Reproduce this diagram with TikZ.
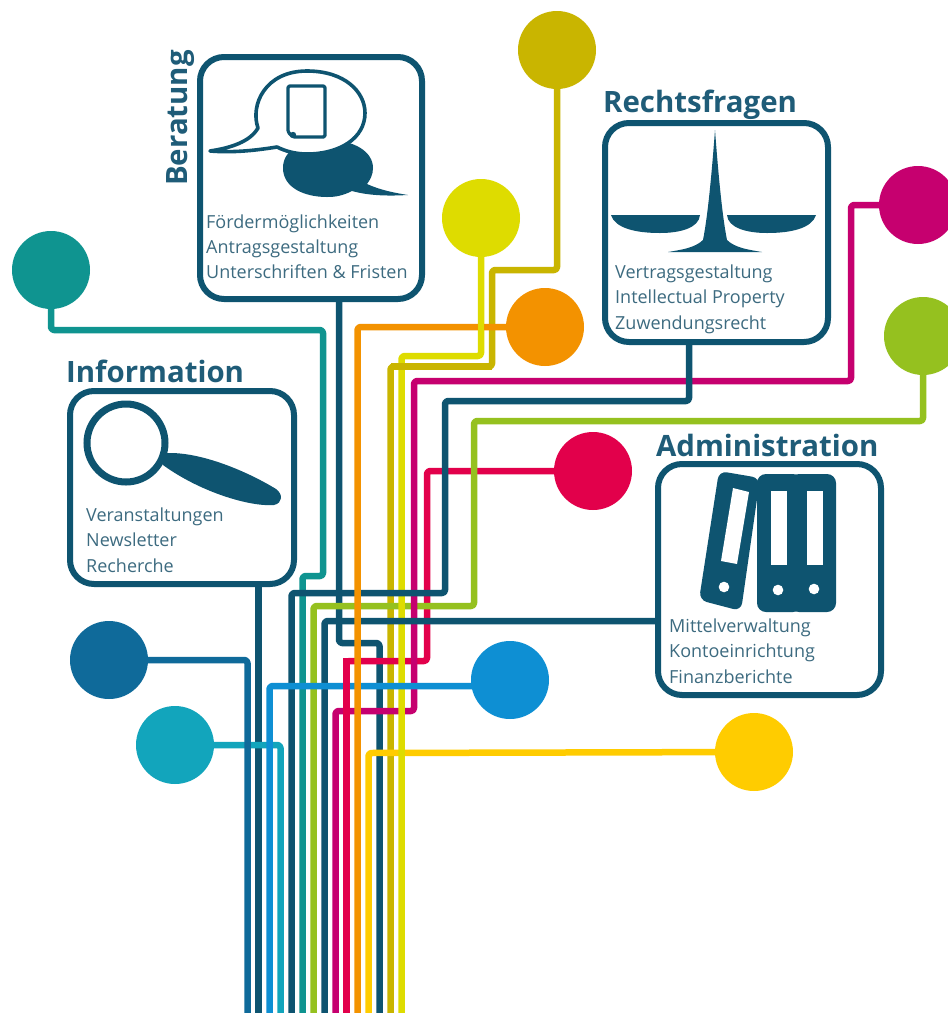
\documentclass[tikz,border=0pt]{standalone}
\usepackage{fontspec}
\setmainfont{Open Sans}
\usetikzlibrary{backgrounds}
\definecolor{cDark}{HTML}{0E5470}
\definecolor{cBlueD}{HTML}{0F6A9A}
\definecolor{cBlue}{HTML}{0E8FD3}
\definecolor{cCyan}{HTML}{12A5BC}
\definecolor{cTeal}{HTML}{0F9490}
\definecolor{cGreen}{HTML}{95C11F}
\definecolor{cMag}{HTML}{C6006F}
\definecolor{cCrim}{HTML}{E2004B}
\definecolor{cOrange}{HTML}{F39200}
\definecolor{cYellow}{HTML}{FFCC00}
\definecolor{cOlive}{HTML}{C9B500}
\definecolor{cLime}{HTML}{DEDC00}
\definecolor{cBody}{HTML}{3D6B80}
\definecolor{cTitle}{HTML}{1F5C78}
\tikzset{
  dot/.style={circle,fill=#1,draw=none,minimum size=78pt,inner sep=0pt},
  panel/.style={rectangle,draw=cDark,line width=6pt,rounded corners=24pt,inner sep=0pt},
  conn/.style={draw=#1,line width=6.5pt,rounded corners=3pt,line join=round},
  title/.style={font=\fontsize{29.4}{32}\selectfont\bfseries,text=cTitle,inner sep=0pt,anchor=base west},
  body/.style={font=\fontsize{18}{25.2}\selectfont,text=cBody,inner sep=0pt,align=left,anchor=base west},
  ink/.style={fill=cDark,draw=none},
}
\begin{document}
\begin{tikzpicture}[x=1pt,y=-1pt]
\useasboundingbox (0,0) rectangle (948,1013);
% panels
\node[panel,minimum width=222pt,minimum height=242pt] (ber) at (311,178) {};
\node[panel,minimum width=223pt,minimum height=219pt] (rec) at (716.5,232.5) {};
\node[panel,minimum width=223pt,minimum height=231pt] (adm) at (769.5,579.5) {};
\node[panel,minimum width=224pt,minimum height=193pt] (inf) at (182,487.5) {};
% dots
\node[dot=cOlive] (dOlive) at (557,50) {};
\node[dot=cLime] (dLime) at (481,218) {};
\node[dot=cOrange] (dOrange) at (545,327) {};
\node[dot=cMag] (dMag) at (918,205) {};
\node[dot=cGreen] (dGreen) at (923,336) {};
\node[dot=cTeal] (dTeal) at (51,270) {};
\node[dot=cCrim] (dCrim) at (593,471) {};
\node[dot=cBlueD] (dBlueD) at (109,660) {};
\node[dot=cCyan] (dCyan) at (175,745) {};
\node[dot=cBlue] (dBlue) at (510,680) {};
\node[dot=cYellow] (dYellow) at (754,752) {};
% free ends
\foreach \n/\x in {a/247.5,b/258.5,c/269.5,d/280.5,e/291.5,f/302.5,g/313.5,h/324.5,i/335.5,j/346.5,k/357.5,l/368.5,m/379.5,n/390.5,o/401.5}
  \coordinate (end\n) at (\x,1020);
% connectors, lowest first so that the crossings stack as in the picture
\begin{scope}[on background layer]
\fill[white] (0,0) rectangle (948,1013);
\draw[conn=cTeal] (dTeal.center) -- (51,330) -- (323,330) -- (323,576) -- (302.5,576) -- (endf);
\draw[conn=cOlive] (dOlive.center) -- (557,270) -- (492,270) -- (492,366.5) -- (390.5,366.5) -- (endn);
\draw[conn=cDark] (258.5,0 |- inf.south) -- (endb);
\draw[conn=cDark] (339,0 |- ber.south) -- (339,643) -- (379.5,643) -- (endm);
\draw[conn=cCyan] (dCyan.center) -- (280.5,745) -- (endd);
\draw[conn=cBlueD] (dBlueD.center) -- (247.5,660) -- (enda);
\draw[conn=cYellow] (dYellow.center) -- (368.5,753) -- (endl);
\draw[conn=cCrim] (dCrim.center) -- (427,471) -- (427,661) -- (346.5,661) -- (endj);
\draw[conn=cGreen] (dGreen.center) -- (923,421) -- (474,421) -- (474,606) -- (313.5,606) -- (endg);
\draw[conn=cMag] (dMag.center) -- (851,205) -- (851,381) -- (414,381) -- (414,711) -- (335.5,711) -- (endi);
\draw[conn=cLime] (dLime.center) -- (481,356) -- (401.5,356) -- (endo);
\draw[conn=cDark] (689,0 |- rec.south) -- (689,401) -- (445,401) -- (445,593) -- (291.5,593) -- (ende);
\draw[conn=cDark] (adm.west |- 0,621) -- (324.5,621) -- (endh);
\draw[conn=cBlue] (dBlue.center) ++(0,6) -- (269.5,686) -- (endc);
\draw[conn=cCrim] (346.5,658) -- (endj);
\draw[conn=cOrange] (dOrange.center) -- (357.5,327) -- (endk);
\draw[conn=cLime] (dLime.center) -- (481,345);
\draw[conn=cOlive] (492,366.5) -- (390.5,366.5);
\end{scope}
% titles
\node[title,rotate=90] (tBer) at (187,186) {Beratung};
\node[title] (tRec) at (603,112) {Rechtsfragen};
\node[title] (tAdm) at (656,456) {Administration};
\node[title] (tInf) at (66,382) {Information};
% body text
\node[body] (xBer) at (206,278.5) {Fördermöglichkeiten\\Antragsgestaltung\\Unterschriften \& Fristen};
\node[body] (xRec) at (615,329) {Vertragsgestaltung\\Intellectual Property\\Zuwendungsrecht};
\node[body] (xAdm) at (669,683) {Mittelverwaltung\\Kontoeinrichtung\\Finanzberichte};
\node[body] (xInf) at (86,572) {Veranstaltungen\\Newsletter\\Recherche};
% icon: speech bubbles
\fill[ink] (283,168) .. controls (283,148) and (305,140) .. (327,140)
  .. controls (355,140) and (373,152) .. (373,168)
  .. controls (373,175) and (370,180) .. (367,184)
  .. controls (380,190) and (395,193) .. (408,195)
  .. controls (390,196) and (370,196) .. (352,191)
  .. controls (342,196) and (335,197) .. (327,197)
  .. controls (305,197) and (283,188) .. (283,168) -- cycle;
\draw[cDark,line width=3.6pt,fill=white,line join=round] (258,128)
  .. controls (250,105) and (265,71) .. (307,71)
  .. controls (345,71) and (365,92) .. (365,113)
  .. controls (365,138) and (340,154) .. (307,154)
  .. controls (295,154) and (285,151) .. (277,147)
  .. controls (258,150) and (235,153) .. (210,151)
  .. controls (230,148) and (250,142) .. (258,128) -- cycle;
\draw[cDark,line width=3.2pt,rounded corners=1.5pt,line join=round] (288,132) -- (288,86) -- (325,86) -- (325,137) -- (293,137) -- cycle;
\fill[ink] (293,135) circle (3.2pt);
% icon: scales
\fill[ink] (715,130) .. controls (712,170) and (708,215) .. (703,240)
  .. controls (695,248) and (680,250) .. (668,252) -- (762,252)
  .. controls (750,250) and (735,248) .. (727,240)
  .. controls (722,215) and (718,170) .. (715,130) -- cycle;
\fill[ink] (611,215) -- (700,215) .. controls (699,228) and (680,233) .. (660,233) .. controls (635,233) and (615,228) .. (611,215) -- cycle;
\fill[ink] (727,215) -- (816,215) .. controls (812,228) and (792,233) .. (767,233) .. controls (747,233) and (728,228) .. (727,215) -- cycle;
% icon: folders
\fill[ink,rounded corners=8pt] (719,471) -- (760,478) -- (741,611) -- (699,600) -- cycle;
\fill[white] (733,488) -- (749,492) -- (737,564) -- (721,561) -- cycle;
\fill[white] (724,587) circle (5.3pt);
\fill[ink,rounded corners=9pt] (757,474) rectangle (802,612);
\fill[ink,rounded corners=9pt] (790,474) rectangle (836,612);
\fill[white] (771,491) rectangle (787,565);
\fill[white] (807,491) rectangle (823,565);
\fill[white] (778,590) circle (5.3pt);
\fill[white] (814,589) circle (5.3pt);
% icon: magnifier
\draw[cDark,line width=7pt] (126,443) circle (39pt);
\fill[ink] (163,465) .. controls (160,458) and (162,453) .. (170,453)
  .. controls (205,453) and (250,473) .. (276,489)
  .. controls (283,494) and (283,503) .. (274,505)
  .. controls (250,507) and (200,492) .. (163,465) -- cycle;
\end{tikzpicture}
\end{document}
